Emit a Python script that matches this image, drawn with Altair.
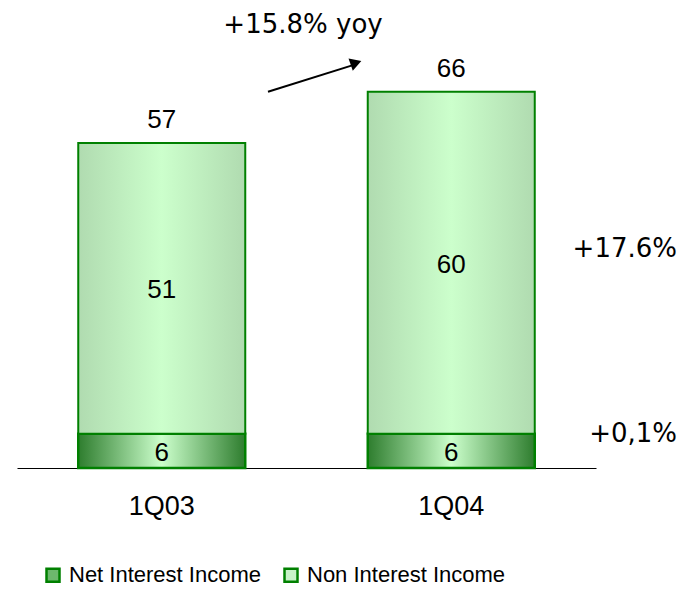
import altair as alt
import pandas as pd

quarters = ["1Q03", "1Q04"]
net_interest = [6, 6]
non_interest = [51, 60]
totals = [57, 66]
series_names = ["Net Interest Income", "Non Interest Income"]
growth_labels = ["+17.6%", "+0,1%"]
growth_y = [37.0, 4.6]
yoy_label = "+15.8% yoy"
yoy_y = 76.3

rows = []
for q, n, o in zip(quarters, net_interest, non_interest):
    rows.append({"q": q, "series": series_names[0], "y0": 0, "y1": n, "mid": n / 2, "val": n})
    rows.append({"q": q, "series": series_names[1], "y0": n, "y1": n + o, "mid": n + o / 2, "val": o})
df = pd.DataFrame(rows)
tot_df = pd.DataFrame({"q": quarters, "total": totals})
growth_df = pd.DataFrame({"label": growth_labels, "y": growth_y})

x_enc = alt.X("q:N", scale=alt.Scale(paddingInner=0, paddingOuter=0),
              axis=alt.Axis(title=None, labelAngle=0, labelFontSize=27, labelFont="Liberation Sans",
                            labelColor="black", ticks=False, domainColor="black", domainWidth=1.2,
                            labelPadding=25, labelBaseline="top"))
y_scale = alt.Scale(domain=[0, 80])

def grad(edge, center):
    return {"gradient": "linear", "x1": 0, "x2": 1, "y1": 0, "y2": 0,
            "stops": [{"offset": 0, "color": edge}, {"offset": 0.5, "color": center},
                      {"offset": 1, "color": edge}]}

legend_layer = alt.Chart(df).mark_bar(size=167, opacity=0).encode(
    x=x_enc,
    y=alt.Y("y0:Q", scale=y_scale, axis=None),
    y2="y1:Q",
    color=alt.Color("series:N", scale=alt.Scale(domain=series_names, range=["#6cb86c", "#c8f2c8"]),
                    legend=alt.Legend(title=None, orient="none", direction="horizontal",
                                      legendX=25, legendY=552, symbolType="square", symbolSize=169,
                                      symbolOpacity=1, symbolStrokeColor="#008000", symbolStrokeWidth=2.5,
                                      labelFontSize=22, labelFont="Liberation Sans", labelColor="black",
                                      labelLimit=400, columnPadding=18, labelOffset=5, padding=0)),
)

nii_bar = alt.Chart(df).transform_filter(alt.datum.series == series_names[0]).mark_bar(
    size=167, fill=grad("#2e7d2e", "#ccffcc"), stroke="#008000", strokeWidth=2.5
).encode(x=x_enc, y=alt.Y("y0:Q", scale=y_scale, axis=None), y2="y1:Q")

non_bar = alt.Chart(df).transform_filter(alt.datum.series == series_names[1]).mark_bar(
    size=167, fill=grad("#b0dbb0", "#ccffcc"), stroke="#008000", strokeWidth=2
).encode(x=x_enc, y=alt.Y("y0:Q", scale=y_scale, axis=None), y2="y1:Q")

seg_text = alt.Chart(df).mark_text(fontSize=26, font="Liberation Sans", color="black",
                                   baseline="alphabetic", dy=10).encode(
    x=x_enc, y=alt.Y("mid:Q", scale=y_scale, axis=None), text="val:Q")

tot_text = alt.Chart(tot_df).mark_text(fontSize=26, font="Liberation Sans", color="black",
                                       baseline="alphabetic", dy=-15).encode(
    x=x_enc, y=alt.Y("total:Q", scale=y_scale, axis=None), text="total:Q")

growth_text = alt.Chart(growth_df).mark_text(fontSize=26, font="DejaVu Sans", color="black",
                                             align="right", baseline="alphabetic").encode(
    x=alt.value(660), y=alt.Y("y:Q", scale=y_scale, axis=None), text="label:N")

yoy_df = pd.DataFrame({"label": [yoy_label], "y": [yoy_y]})
yoy_text = alt.Chart(yoy_df).mark_text(fontSize=26, font="DejaVu Sans", color="black",
                                       baseline="alphabetic").encode(
    x=alt.value(286), y=alt.Y("y:Q", scale=y_scale, axis=None), text="label:N")

arrow_df = pd.DataFrame({"y": [66.0], "y2": [70.9]})
arrow_line = alt.Chart(arrow_df).mark_rule(color="black", strokeWidth=2).encode(
    x=alt.value(251), x2=alt.value(340), y=alt.Y("y:Q", scale=y_scale, axis=None), y2="y2:Q")
head_df = pd.DataFrame({"y": [71.1]})
arrow_head = alt.Chart(head_df).mark_point(shape="triangle-up", filled=True, color="black",
                                           size=170, angle=71, opacity=1).encode(
    x=alt.value(339), y=alt.Y("y:Q", scale=y_scale, axis=None))

chart = alt.layer(legend_layer, nii_bar, non_bar, seg_text, tot_text, growth_text, yoy_text,
                  arrow_line, arrow_head).properties(
    width=579, height=456, autosize=alt.AutoSizeParams(type="none"),
    padding={"left": 17, "top": 12, "right": 88, "bottom": 122}, background="white"
).configure_view(stroke=None).configure_axis(grid=False)

chart.save("out.html", embed_options={"renderer": "svg", "actions": False})
